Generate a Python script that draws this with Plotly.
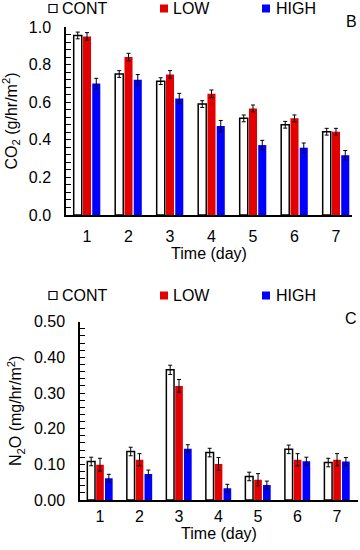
import plotly.graph_objects as go

days = [1, 2, 3, 4, 5, 6, 7]
day_labels = ["1", "2", "3", "4", "5", "6", "7"]
series_names = ["CONT", "LOW", "HIGH"]

co2_cont = [0.955, 0.750, 0.712, 0.590, 0.514, 0.480, 0.443]
co2_low = [0.950, 0.840, 0.748, 0.645, 0.567, 0.514, 0.443]
co2_high = [0.700, 0.720, 0.620, 0.473, 0.372, 0.358, 0.318]
co2_cont_err = [0.018, 0.018, 0.018, 0.018, 0.018, 0.018, 0.018]
co2_low_err = [0.020, 0.020, 0.020, 0.020, 0.018, 0.018, 0.018]
co2_high_err = [0.027, 0.027, 0.027, 0.030, 0.025, 0.025, 0.025]

n2o_cont = [0.108, 0.136, 0.365, 0.133, 0.066, 0.142, 0.105]
n2o_low = [0.099, 0.113, 0.320, 0.101, 0.057, 0.113, 0.113]
n2o_high = [0.061, 0.073, 0.144, 0.033, 0.042, 0.109, 0.108]
n2o_cont_err = [0.012, 0.012, 0.013, 0.012, 0.012, 0.012, 0.012]
n2o_low_err = [0.018, 0.017, 0.018, 0.018, 0.017, 0.017, 0.017]
n2o_high_err = [0.011, 0.011, 0.011, 0.011, 0.011, 0.011, 0.011]

RED = "#e30000"
BLUE = "#0000ff"
FONT = "Liberation Sans, Arial, sans-serif"

def bar(x, y, err, color, name, xa, ya):
    if color == "white":
        marker = dict(color="white", line=dict(color="black", width=1.5))
    else:
        marker = dict(color=color, line=dict(width=0))
    return go.Bar(
        x=x, y=y, name=name, marker=marker, xaxis=xa, yaxis=ya,
        error_y=dict(type="data", array=err, color="black", thickness=1, width=2),
        showlegend=False,
    )

fig = go.Figure()
fig.add_trace(bar(days, co2_cont, co2_cont_err, "white", "CONT", "x", "y"))
fig.add_trace(bar(days, co2_low, co2_low_err, RED, "LOW", "x", "y"))
fig.add_trace(bar(days, co2_high, co2_high_err, BLUE, "HIGH", "x", "y"))
fig.add_trace(bar(days, n2o_cont, n2o_cont_err, "white", "CONT", "x2", "y2"))
fig.add_trace(bar(days, n2o_low, n2o_low_err, RED, "LOW", "x2", "y2"))
fig.add_trace(bar(days, n2o_high, n2o_high_err, BLUE, "HIGH", "x2", "y2"))

W, H = 360, 550
def px(x):
    return x / W
def py(y):
    return 1 - y / H

tickfont = dict(family=FONT, size=16, color="black")

xcommon = dict(
    tickmode="array", tickvals=days, ticktext=day_labels, ticks="",
    showline=True, linecolor="black", linewidth=1.5, showgrid=False,
    zeroline=False, tickfont=tickfont, automargin=False,
)
ycommon = dict(
    showline=True, linecolor="black", linewidth=1.5, showgrid=False,
    zeroline=False, ticks="inside", ticklen=5, tickwidth=1, tickcolor="black",
    tickfont=tickfont, ticklabelstandoff=10, automargin=False,
)

fig.update_layout(
    template="none",
    width=W, height=H, margin=dict(l=0, r=0, t=0, b=0, autoexpand=False),
    paper_bgcolor="white", plot_bgcolor="white",
    barmode="group", bargap=0.33, bargroupgap=0.13,
    font=dict(family=FONT, size=16, color="black"),
    xaxis=dict(xcommon, domain=[px(66), px(352)], range=[0.494, 7.386], anchor="y",
               ticklabelstandoff=6,
               title=dict(text="Time (day)", font=tickfont, standoff=0)),
    yaxis=dict(ycommon, domain=[py(215), py(27)], range=[0, 1.0], anchor="x",
               tickvals=[0, 0.2, 0.4, 0.6, 0.8, 1.0], ticktext=["0.0", "0.2", "0.4", "0.6", "0.8", "1.0"],
               minor=dict(ticks="inside", dtick=0.04, ticklen=5, tickcolor="black", tickwidth=1),
               title=dict(text="CO<sub>2</sub> (g/hr/m<sup>2</sup>)", font=tickfont, standoff=8)),
    xaxis2=dict(xcommon, domain=[px(80), px(358)], range=[0.494, 7.53], anchor="y2",
                ticklabelstandoff=1,
                title=dict(text="Time (day)", font=tickfont, standoff=4)),
    yaxis2=dict(ycommon, domain=[py(500), py(321.7)], range=[0, 0.5], anchor="x2",
                tickvals=[0, 0.1, 0.2, 0.3, 0.4, 0.5], ticktext=["0.00", "0.10", "0.20", "0.30", "0.40", "0.50"],
                minor=dict(ticks="inside", dtick=0.02, ticklen=5, tickcolor="black", tickwidth=1),
                title=dict(text="N<sub>2</sub>O (mg/hr/m<sup>2</sup>)", font=tickfont, standoff=8)),
)

# legends (one per panel)
legend_colors = ["white", RED, BLUE]
legend_sq_x = [49, 160, 262]
legend_txt_x = [59.5, 171, 274]
for yc in [8.5, 295.5]:
    for name, col, sx, tx in zip(series_names, legend_colors, legend_sq_x, legend_txt_x):
        fig.add_shape(type="rect", xref="paper", yref="paper",
                      x0=px(sx), x1=px(sx + 8), y0=py(yc + 4), y1=py(yc - 4),
                      fillcolor=col, line=dict(color="black" if col == "white" else col, width=1.2 if col == "white" else 0))
        fig.add_annotation(text=name, xref="paper", yref="paper", x=px(tx), y=py(yc),
                           xanchor="left", yanchor="middle", showarrow=False,
                           font=dict(family=FONT, size=16, color="black"))

fig.add_annotation(text="B", xref="paper", yref="paper", x=px(351), y=py(21),
                   xanchor="center", yanchor="middle", showarrow=False,
                   font=dict(family=FONT, size=16, color="black"))
fig.add_annotation(text="C", xref="paper", yref="paper", x=px(351), y=py(318),
                   xanchor="center", yanchor="middle", showarrow=False,
                   font=dict(family=FONT, size=16, color="black"))

fig.write_html(
    "out.html",
    config={"displayModeBar": False},
    post_script="document.body.style.margin='0px';document.body.style.overflow='hidden';",
)
